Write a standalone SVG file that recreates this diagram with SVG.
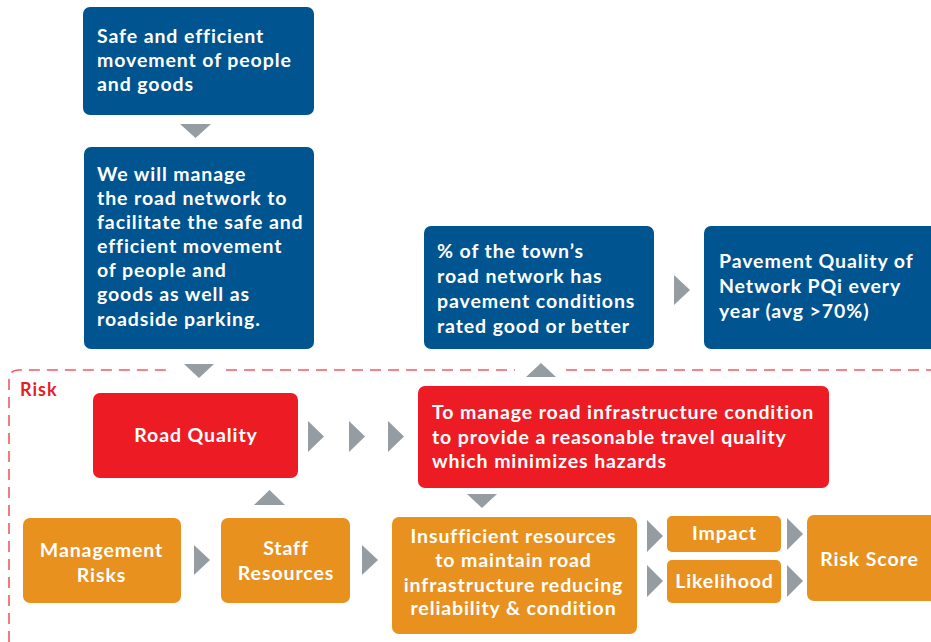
<svg xmlns="http://www.w3.org/2000/svg" width="931" height="642" viewBox="0 0 931 642">
<style>
.blue{fill:#00548F}
.red{fill:#ED1C24}
.org{fill:#E8911F}
.arr{fill:#959CA2}
text{font-family:Lato,"Noto Sans","Liberation Sans",sans-serif;font-weight:700;fill:#fff;font-size:19.5px;letter-spacing:0.9px}
.c{text-anchor:middle}
.risk{fill:#E31E24;font-size:18px;letter-spacing:1px}
.dash{fill:none;stroke:#EF5B62;stroke-width:1.6;stroke-dasharray:11 7}
</style>
<rect width="931" height="642" fill="#fff"/>
<g id="risk-frame">
<path class="dash" d="M 9 642 V 380 Q 9 370 19 370 H 172 M 226 370 H 515 M 566 370 H 931"/>
<text class="risk" x="20" y="396">Risk</text>
</g>
<g id="n1"><rect class="blue" x="83" y="7" width="231" height="108" rx="7"/>
<text x="97" y="43">Safe and efficient</text><text x="97" y="67">movement of people</text><text x="97" y="91">and goods</text></g>
<g id="n2"><rect class="blue" x="84" y="147" width="230" height="202" rx="7"/>
<text x="97" y="181">We will manage</text><text x="97" y="205">the road network to</text><text x="97" y="229">facilitate the safe and</text><text x="97" y="253">efficient movement</text><text x="97" y="277">of people and</text><text x="97" y="301">goods as well as</text><text x="97" y="326">roadside parking.</text></g>
<g id="n3"><rect class="blue" x="424" y="226" width="230" height="123" rx="7"/>
<text x="437" y="258">% of the town’s</text><text x="437" y="283">road network has</text><text x="437" y="308">pavement conditions</text><text x="437" y="333">rated good or better</text></g>
<g id="n4"><rect class="blue" x="704" y="226" width="240" height="123" rx="7"/>
<text x="719" y="268">Pavement Quality of</text><text x="719" y="293">Network PQi every</text><text x="719" y="318">year (avg &gt;70%)</text></g>
<g id="n5"><rect class="red" x="93" y="393" width="205" height="85" rx="7"/>
<text class="c" x="196" y="442">Road Quality</text></g>
<g id="n6"><rect class="red" x="418" y="386" width="411" height="102" rx="7"/>
<text x="432" y="419">To manage road infrastructure condition</text><text x="432" y="444">to provide a reasonable travel quality</text><text x="432" y="468">which minimizes hazards</text></g>
<g id="n7"><rect class="org" x="23" y="518" width="158" height="85" rx="7"/>
<text class="c" x="101.5" y="557">Management</text><text class="c" x="101.5" y="582">Risks</text></g>
<g id="n8"><rect class="org" x="221" y="518" width="129" height="85" rx="7"/>
<text class="c" x="286" y="555">Staff</text><text class="c" x="286" y="580">Resources</text></g>
<g id="n9"><rect class="org" x="392" y="517" width="245" height="117" rx="7"/>
<text class="c" x="513.5" y="543">Insufficient resources</text><text class="c" x="513.5" y="567">to maintain road</text><text class="c" x="513.5" y="592">infrastructure reducing</text><text class="c" x="513.5" y="615">reliability &amp; condition</text></g>
<g id="n10"><rect class="org" x="667" y="516" width="114" height="36" rx="5"/>
<text class="c" x="724.5" y="540">Impact</text></g>
<g id="n11"><rect class="org" x="667" y="560" width="114" height="43" rx="5"/>
<text class="c" x="724.5" y="588">Likelihood</text></g>
<g id="n12"><rect class="org" x="807" y="515" width="130" height="86" rx="7"/>
<text class="c" x="869.5" y="566">Risk Score</text></g>
<g id="connectors" class="arr">
<polygon points="180,124 211,124 195.5,138"/>
<polygon points="184,364 214,364 199,378"/>
<polygon points="526,377 556,377 541,363"/>
<polygon points="674,275 690,290 674,305"/>
<polygon points="308,421 324,436.5 308,452"/>
<polygon points="349,421 365,436.5 349,452"/>
<polygon points="388,421 404,436.5 388,452"/>
<polygon points="467,494 497,494 482,508"/>
<polygon points="254,505 285,505 269.5,490"/>
<polygon points="194,545 210,560 194,575"/>
<polygon points="362,545 378,560 362,575"/>
<polygon points="647,520 663,536 647,552"/>
<polygon points="647,565 663,581 647,597"/>
<polygon points="787,518 803,534 787,550"/>
<polygon points="787,565 803,581 787,597"/>
</g>
</svg>
